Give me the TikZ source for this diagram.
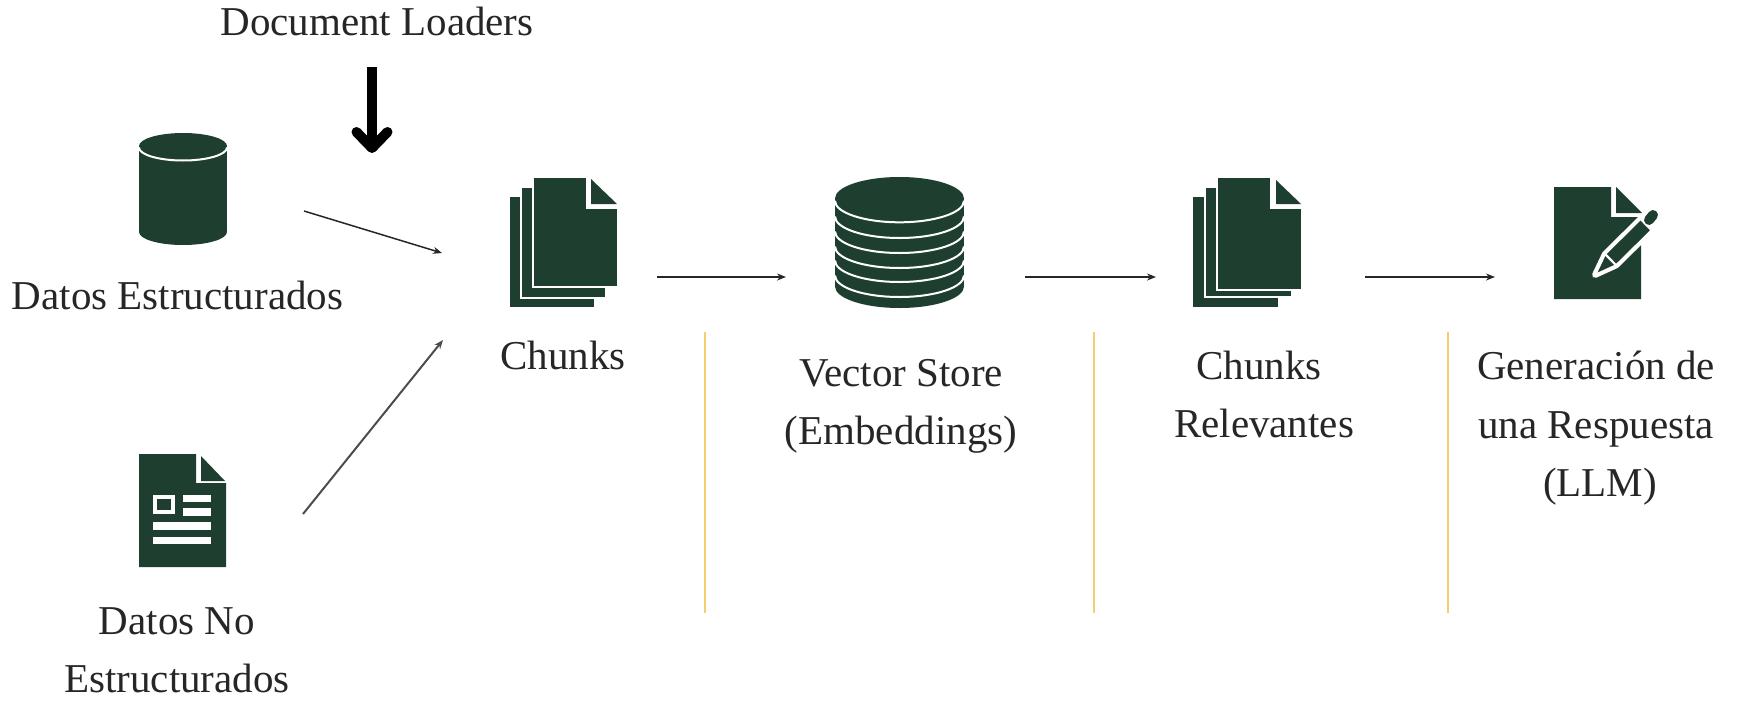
\documentclass[tikz,border=0pt]{standalone}
\usepackage{fontspec}
\setmainfont{Liberation Serif}
\usetikzlibrary{arrows.meta}
\definecolor{icongreen}{HTML}{1E3F2F}
\definecolor{inktext}{HTML}{262626}
\definecolor{rulegold}{HTML}{F4CE74}
\newcommand{\pageicon}[6]{% left,right,top,bottom,cutx,cuty
  \fill[icon] (#1,#3) -- (#5,#3) -- (#5,#6) -- (#2,#6) -- (#2,#4) -- (#1,#4) -- cycle;}
\begin{document}
\begin{tikzpicture}[x=1pt,y=-1pt,
  icon/.style={fill=icongreen},
  gapline/.style={draw=white,line width=2.4pt},
  lbl/.style={anchor=base,inner sep=0pt,text=inktext,font=\fontsize{41}{48}\selectfont},
  flow/.style={draw=black!85,line width=1.5pt,-{Stealth[length=9pt,width=7pt]}},
  divider/.style={draw=rulegold,line width=2pt}]
\useasboundingbox (0,0) rectangle (1738,723);

% free ends of the connectors
\coordinate (a1s) at (304,211);   \coordinate (a1e) at (442,253);
\coordinate (a2s) at (303,514);   \coordinate (a2e) at (443,340);
\coordinate (a3s) at (657,277);   \coordinate (a3e) at (786,277);
\coordinate (a4s) at (1025,277);  \coordinate (a4e) at (1156,277);
\coordinate (a5s) at (1365,277);  \coordinate (a5e) at (1495,277);
\coordinate (loadS) at (372,67);  \coordinate (loadE) at (372,153);
\coordinate (d1t) at (705,332);   \coordinate (d1b) at (705,613);
\coordinate (d2t) at (1094,332);  \coordinate (d2b) at (1094,613);
\coordinate (d3t) at (1447.5,332);\coordinate (d3b) at (1447.5,613);

% cylinder
\fill[icon] (139,146) rectangle (227,232);
\fill[icon] (183,232) ellipse [x radius=44pt,y radius=13pt];
\fill[icon] (183,146) ellipse [x radius=44pt,y radius=13pt];
\draw[gapline,line width=2pt] (139,147.5) arc [start angle=180,end angle=360,x radius=44pt,y radius=13pt];

% document with form
\pageicon{139}{226}{454}{567}{196}{483}
\fill[icon] (201,456) -- (225,481) -- (201,481) -- cycle;
\draw[white,line width=4pt] (155,497) rectangle (173,512);
\fill[white] (183,494.5) rectangle (211,502);
\fill[white] (183,508) rectangle (211,515.5);
\fill[white] (153,521.5) rectangle (211,529.5);
\fill[white] (153,536.5) rectangle (211,544);

% chunks stack 1
\fill[icon] (510,197) rectangle (594,307);
\draw[gapline,fill=icongreen] (521,187) rectangle (606,298);
\fill[white] (586,170) rectangle (625,208);
\fill[white] (606.9,208) rectangle (625,300);
\draw[gapline,fill=icongreen] (533,177) -- (587.5,177) -- (587.5,208) -- (618,208) -- (618,287) -- (533,287) -- cycle;
\fill[white] (588.7,170) rectangle (625,206.8);
\fill[icon] (591,179) -- (617,204) -- (591,204) -- cycle;

% vector store
\fill[icon] (835,198.5) rectangle (964,286.5);
\fill[icon] (899.5,286.5) ellipse [x radius=64.5pt,y radius=21.5pt];
\fill[icon] (899.5,198.5) ellipse [x radius=64.5pt,y radius=21.5pt];
\foreach \yy in {200.8,216.5,231.5,246.5,260.5,275.5}
  \draw[gapline,line width=2pt] (835,\yy) arc [start angle=180,end angle=360,x radius=64.5pt,y radius=21.5pt];

% chunks stack 2
\fill[icon] (1193,197) rectangle (1278,307);
\draw[gapline,fill=icongreen] (1205,187) rectangle (1292,297);
\fill[white] (1272,170) rectangle (1310,208);
\fill[white] (1292.9,208) rectangle (1310,299);
\draw[gapline,fill=icongreen] (1217,177) -- (1271,177) -- (1271,208) -- (1302,208) -- (1302,290) -- (1217,290) -- cycle;
\fill[white] (1272.2,170) rectangle (1310,206.8);
\fill[icon] (1276,180) -- (1301,204) -- (1276,204) -- cycle;

% document with pencil
\pageicon{1554}{1641}{187}{299}{1611}{217}
\fill[icon] (1616,187) -- (1642,213) -- (1616,213) -- cycle;
\draw[white,line width=6pt,line join=round] (1595,275) -- (1616.2,265.3) -- (1651.7,230.3) -- (1640.5,218.9) -- (1605,254) -- cycle;
\filldraw[fill=icongreen,draw=white,line width=2.2pt,line join=round] (1595,275) -- (1616.2,265.3) -- (1651.7,230.3) -- (1640.5,218.9) -- (1605,254) -- cycle;
\draw[white,line width=2.2pt] (1616.2,265.3) -- (1605,254);
\draw[icongreen,line width=10pt,line cap=round] (1649,220) -- (1653,215);

% connectors
\draw[flow] (a1s) -- (a1e);
\draw[flow,draw=black!70,line width=2pt] (a2s) -- (a2e);
\draw[flow] (a3s) -- (a3e);
\draw[flow] (a4s) -- (a4e);
\draw[flow] (a5s) -- (a5e);
\draw[black,line width=10pt,-{Straight Barb[length=16pt,width=31pt,round]}] (loadS) -- (loadE);

% dividers
\draw[divider] (d1t) -- (d1b);
\draw[divider] (d2t) -- (d2b);
\draw[divider] (d3t) -- (d3b);

% labels
\node[lbl] (tLoaders) at (377,35) {Document Loaders};
\node[lbl] (tEstr) at (177.5,309) {Datos Estructurados};
\node[lbl] (tNo1) at (177,634) {Datos No};
\node[lbl] (tNo2) at (177,692) {Estructurados};
\node[lbl] (tChunks) at (563,369) {Chunks};
\node[lbl] (tVec1) at (901,386) {Vector Store};
\node[lbl] (tVec2) at (901,444) {(Embeddings)};
\node[lbl] (tRel1) at (1259,379) {Chunks};
\node[lbl] (tRel2) at (1264,437) {Relevantes};
\node[lbl] (tGen1) at (1596,379) {Generación de};
\node[lbl] (tGen2) at (1596,438) {una Respuesta};
\node[lbl] (tGen3) at (1600,496) {(LLM)};
\end{tikzpicture}
\end{document}
